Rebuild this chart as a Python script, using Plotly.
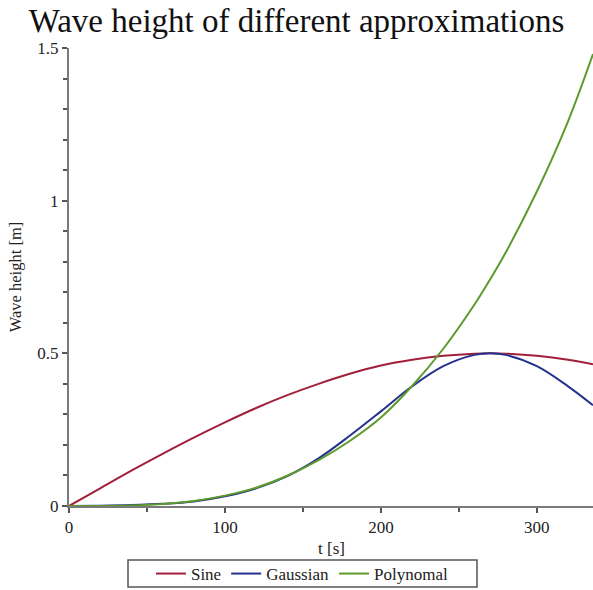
import plotly.graph_objects as go

t = [0, 20, 40, 60, 80, 100, 120, 140, 160, 180, 200, 220, 240, 260, 270, 280, 300, 320, 336]
sine = [0, 0.058, 0.116, 0.171, 0.224, 0.274, 0.321, 0.363, 0.400, 0.433, 0.460, 0.479, 0.492, 0.499, 0.500, 0.499, 0.492, 0.479, 0.464]
gaussian = [0.0004, 0.0012, 0.003, 0.007, 0.015, 0.032, 0.058, 0.098, 0.156, 0.230, 0.310, 0.392, 0.458, 0.495, 0.500, 0.495, 0.458, 0.392, 0.330]
polynomal = [0, 0.0002, 0.0019, 0.0068, 0.0165, 0.034, 0.060, 0.099, 0.150, 0.213, 0.290, 0.393, 0.515, 0.660, 0.742, 0.830, 1.030, 1.260, 1.480]

serif = "Liberation Serif, Times New Roman, serif"

fig = go.Figure()
fig.add_trace(go.Scatter(x=t, y=sine, mode="lines", name="Sine",
                         line=dict(color="#a0203a", width=2, shape="spline")))
fig.add_trace(go.Scatter(x=t, y=gaussian, mode="lines", name="Gaussian",
                         line=dict(color="#25318f", width=2, shape="spline")))
fig.add_trace(go.Scatter(x=t, y=polynomal, mode="lines", name="Polynomal",
                         line=dict(color="#5c9a2c", width=2, shape="spline")))

fig.update_layout(
    width=593, height=590,
    margin=dict(l=69, r=0, t=48, b=84, autoexpand=False),
    paper_bgcolor="white", plot_bgcolor="white",
    font=dict(family=serif, size=17, color="#222"),
    title=dict(text="Wave height of different approximations", x=0.5, xanchor="center",
               xref="container", y=1 - 20 / 590, yanchor="middle", yref="container",
               font=dict(family=serif, size=33, color="#111")),
    showlegend=True,
    legend=dict(orientation="h", xref="container", yref="container",
                x=0.51, xanchor="center", y=16 / 590, yanchor="middle",
                borderwidth=0, bgcolor="rgba(0,0,0,0)", font=dict(size=17, family=serif),
                tracegroupgap=0),
    xaxis=dict(range=[0, 336], showgrid=False, zeroline=False, showline=True,
               linecolor="#7a7a7a", linewidth=2, ticks="outside", ticklen=5,
               tickcolor="#555", tickwidth=1.5, tickvals=[0, 100, 200, 300],
               minor=dict(tickvals=[50, 150, 250], ticks="outside", ticklen=4, tickcolor="#555"),
               fixedrange=True),
    yaxis=dict(range=[0, 1.5], showgrid=False, zeroline=False, showline=True,
               linecolor="#7a7a7a", linewidth=2, ticks="outside", ticklen=5,
               tickcolor="#555", tickwidth=1.5, tickvals=[0, 0.5, 1, 1.5],
               ticktext=["0", "0.5", "1", "1.5"],
               minor=dict(tickvals=[0.1, 0.2, 0.3, 0.4, 0.6, 0.7, 0.8, 0.9, 1.1, 1.2, 1.3, 1.4],
                          ticks="outside", ticklen=4, tickcolor="#555"),
               title=dict(text="Wave height [m]", font=dict(size=16.5, family=serif), standoff=12),
               fixedrange=True),
)

fig.add_annotation(text="t [s]", xref="paper", yref="paper", x=0.5, y=-0.092,
                   xanchor="center", yanchor="middle", showarrow=False,
                   font=dict(size=17, family=serif, color="#222"))

# legend frame
fig.add_shape(type="rect", xref="paper", yref="paper", x0=0.1126, x1=0.7786,
              y0=-0.1769, y1=-0.1179, line=dict(color="#555", width=1.5),
              fillcolor="rgba(0,0,0,0)", layer="above")

fig.write_html("out.html")
